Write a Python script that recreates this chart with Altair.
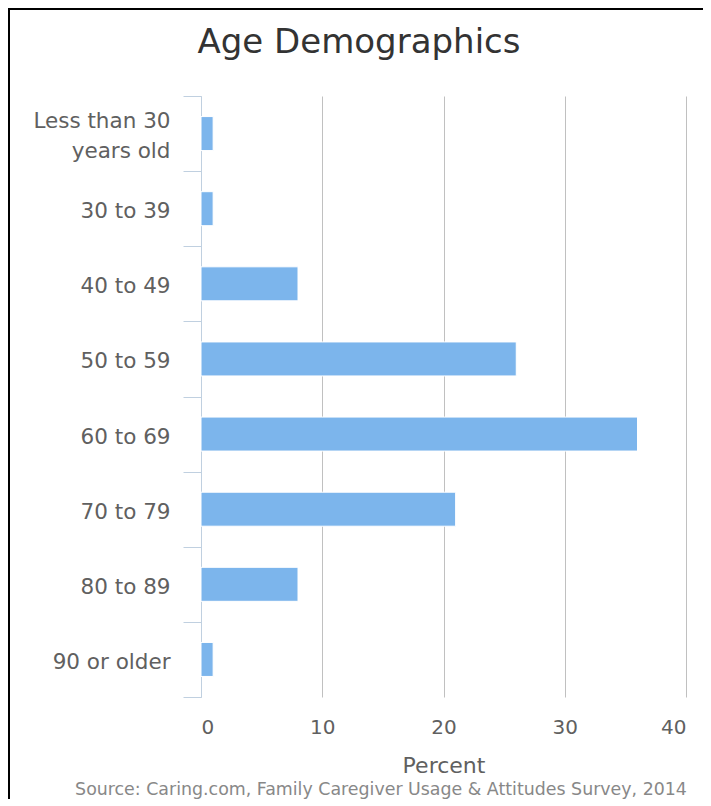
import altair as alt
import pandas as pd

categories = ["Less than 30 years old", "30 to 39", "40 to 49", "50 to 59",
              "60 to 69", "70 to 79", "80 to 89", "90 or older"]
percents = [1, 1, 8, 26, 36, 21, 8, 1]
x_ticks = [0, 10, 20, 30, 40]
title_text = "Age Demographics"
x_title = "Percent"
source_text = "Source: Caring.com, Family Caregiver Usage & Attitudes Survey, 2014"

df = pd.DataFrame({"age": categories, "pct": percents})
FONT = "DejaVu Sans"
W, H = 485, 601

bars = alt.Chart(df).mark_bar(
    color="#7cb5ec", stroke="white", strokeWidth=1, size=34
).encode(
    x=alt.X("pct:Q",
            scale=alt.Scale(domain=[0, 40], nice=False),
            axis=alt.Axis(values=x_ticks, title=x_title, grid=True,
                          gridColor="#c0c0c0", gridWidth=1,
                          domain=False, ticks=False,
                          labelFontSize=20, labelColor="#606060",
                          labelPadding=20, labelFont=FONT,
                          titleFontSize=22, titleColor="#606060",
                          titleFontWeight="normal", titleFont=FONT,
                          titlePadding=18)),
    y=alt.Y("age:N", sort=categories,
            scale=alt.Scale(paddingInner=0, paddingOuter=0),
            axis=alt.Axis(title=None, tickBand="extent",
                          domainColor="#c0d0e0", tickColor="#c0d0e0",
                          tickSize=18, labelFontSize=21.5,
                          labelColor="#606060", labelPadding=13,
                          labelLineHeight=30, labelFont=FONT,
                          labelOffset={"condition": {"test": "datum.value == 'Less than 30 years old'", "value": -12}, "value": 3},
                          labelExpr="datum.value == 'Less than 30 years old' ? ['Less than 30', 'years old'] : datum.value")),
)

ttl = alt.Chart(pd.DataFrame({"t": [title_text]})).mark_text(
    fontSize=34, color="#333333", font=FONT, align="center", baseline="alphabetic"
).encode(text="t:N", x=alt.value(158), y=alt.value(-43))

src = alt.Chart(pd.DataFrame({"t": [source_text]})).mark_text(
    fontSize=17.4, color="#888888", font=FONT, align="center", baseline="alphabetic"
).encode(text="t:N", x=alt.value(180), y=alt.value(699))

frame_left = alt.Chart(pd.DataFrame({"a": [0]})).mark_rule(
    color="black", strokeWidth=2
).encode(x=alt.value(-192), y=alt.value(-88), y2=alt.value(720))

frame_top = alt.Chart(pd.DataFrame({"a": [0]})).mark_rule(
    color="black", strokeWidth=2
).encode(y=alt.value(-87), x=alt.value(-193), x2=alt.value(520))

chart = alt.layer(bars, ttl, src, frame_left, frame_top).properties(
    width=W, height=H,
    autosize="none",
    padding={"left": 193, "top": 88, "right": 17, "bottom": 102},
).configure(font=FONT).configure_view(strokeWidth=0)

chart.save("out.html", embed_options={"renderer": "svg", "actions": False})
